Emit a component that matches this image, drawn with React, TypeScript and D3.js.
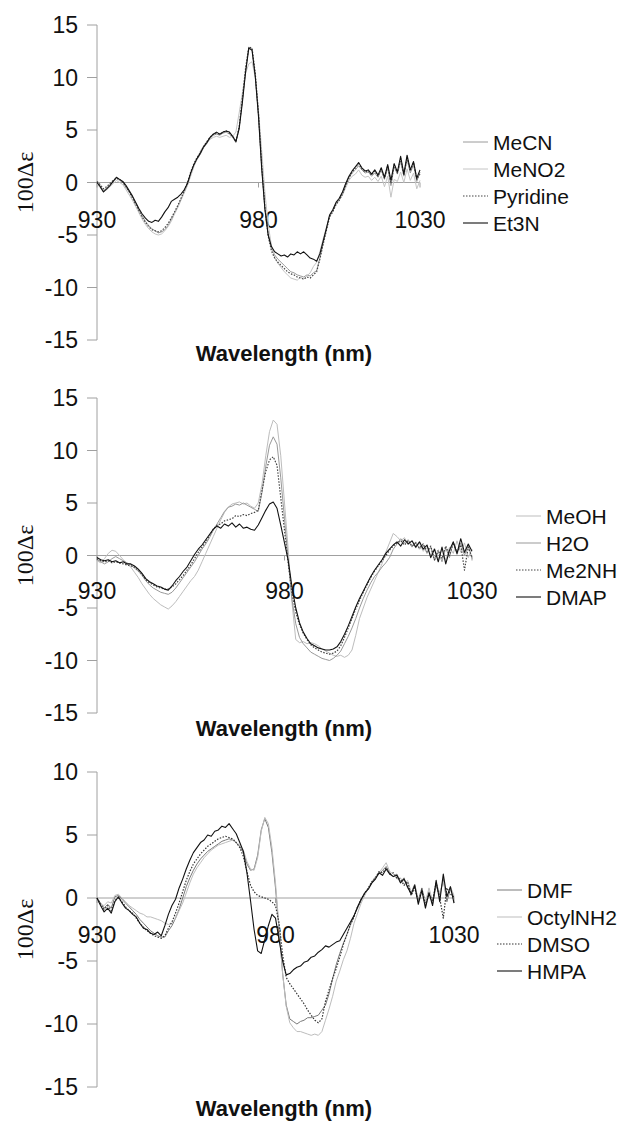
import React from "react";
import * as d3 from "d3";

// 1 nm grid shared by every spectrum
const wavelengths = d3.range(930, 1031);
const xTicks = [930, 980, 1030];

// panel 1
const names1 = ["MeCN", "MeNO2", "Pyridine", "Et3N"];
const meCN = [
  0.0, -0.3, -0.8, -0.5, -0.2, 0.1, 0.4, 0.2, 0.0, -0.5,
  -0.9, -1.4, -2.0, -2.6, -3.2, -3.7, -4.1, -4.4, -4.6, -4.8,
  -4.7, -4.5, -4.1, -3.5, -2.9, -2.3, -1.6, -0.9, -0.2, 0.8,
  1.6, 2.2, 2.7, 3.3, 3.7, 4.2, 4.5, 4.6, 4.5, 4.7,
  4.8, 4.6, 4.3, 3.8, 5.2, 7.8, 10.6, 12.9, 12.7, 10.2,
  6.5, 1.5, -2.5, -5.0, -6.3, -6.9, -7.3, -7.6, -7.9, -8.2,
  -8.5, -8.6, -8.8, -8.9, -9.0, -8.8, -8.9, -8.6, -8.4, -7.2,
  -5.8, -4.5, -3.2, -2.7, -2.0, -1.6, -1.0, -0.2, 0.5, 0.9,
  1.2, 1.6, 1.2, 0.9, 1.0, 0.6, 0.9, 0.5, 1.2, 0.3,
  1.4, -0.3, 1.5, 0.8, 2.0, 0.6, 2.2, 0.9, 1.7, 0.1,
  1.0,
];
const meNO2 = [
  -0.1, -0.5, -0.9, -0.7, -0.4, -0.1, 0.2, 0.0, -0.2, -0.7,
  -1.2, -1.7, -2.3, -2.9, -3.5, -4.0, -4.4, -4.7, -4.9, -5.0,
  -4.9, -4.6, -4.2, -3.7, -3.0, -2.4, -1.7, -1.0, -0.3, 0.6,
  1.5, 2.3, 3.0, 3.5, 3.9, 4.1, 4.3, 4.4, 4.3, 4.4,
  4.5, 4.3, 4.4, 4.8, 6.6, 8.5, 10.4, 11.3, 11.5, 10.0,
  6.8, 3.0, -1.0, -4.0, -6.0, -7.1, -7.7, -8.1, -8.5, -8.8,
  -9.1, -9.2, -9.3, -9.0, -9.2, -8.9, -8.6, -8.0, -7.6, -6.6,
  -5.4, -4.3, -3.3, -2.7, -2.1, -1.7, -1.2, -0.5, 0.2, 0.6,
  0.8, 1.2, 0.7, 0.5, 0.6, 0.2, 0.5, 0.1, 0.6, -0.4,
  0.6, -1.4, 0.3, 0.1, 1.0, 0.0, 1.3, 0.2, 0.9, -0.6,
  0.2,
];
const pyridine = [
  0.1, -0.2, -0.6, -0.4, -0.1, 0.2, 0.4, 0.3, 0.0, -0.4,
  -0.9, -1.5, -2.1, -2.7, -3.3, -3.8, -4.2, -4.5, -4.6, -4.7,
  -4.6, -4.3, -3.9, -3.4, -2.8, -2.2, -1.5, -0.8, 0.0, 1.0,
  1.8, 2.4, 2.8, 3.4, 3.9, 4.3, 4.6, 4.7, 4.6, 4.8,
  4.9, 4.7, 4.4, 3.9, 5.3, 8.0, 10.9, 12.9, 12.8, 10.4,
  6.6, 1.6, -2.4, -5.1, -6.5, -7.2, -7.6, -7.9, -8.2, -8.5,
  -8.7, -8.8, -9.0, -9.1, -9.2, -9.0, -9.1, -8.8, -8.5, -7.3,
  -5.9, -4.6, -3.3, -2.8, -2.1, -1.7, -1.1, -0.3, 0.4, 1.0,
  1.4, 1.8, 1.3, 1.0, 1.1, 0.7, 1.1, 0.6, 1.3, 0.4,
  1.6, -0.1, 1.7, 0.9, 2.3, 0.7, 2.4, 1.1, 1.9, 0.3,
  0.8,
];
const et3N = [
  0.0, -0.4, -0.9, -0.6, -0.3, 0.1, 0.5, 0.3, 0.1, -0.3,
  -0.8, -1.3, -1.9, -2.5, -3.0, -3.4, -3.7, -3.8, -3.6, -3.7,
  -3.3, -2.8, -2.4, -1.8, -1.6, -1.4, -1.1, -0.7, -0.1, 0.9,
  1.7, 2.3, 2.8, 3.4, 3.8, 4.3, 4.6, 4.8, 4.6, 4.8,
  4.9, 4.8, 4.4, 3.9, 5.1, 7.6, 10.5, 12.8, 12.6, 10.1,
  6.3, 1.3, -2.6, -5.0, -6.1, -6.6, -6.8, -7.0, -6.9, -7.1,
  -6.8, -6.9, -6.6, -6.8, -6.6, -6.9, -7.2, -7.3, -7.5, -6.8,
  -5.6, -4.4, -3.1, -2.6, -1.9, -1.5, -0.9, -0.1, 0.6, 1.1,
  1.5, 1.9, 1.4, 1.1, 1.2, 0.8, 1.2, 0.7, 1.4, 0.5,
  1.7, 0.2, 1.8, 1.0, 2.5, 0.8, 2.6, 1.2, 2.0, 0.4,
  1.2,
];

// panel 2
const names2 = ["MeOH", "H2O", "Me2NH", "DMAP"];
const meOH = [
  -0.5, -0.7, -0.3, 0.2, 0.5, 0.4, 0.0, -0.4, -0.8, -1.1,
  -1.6, -2.1, -2.7, -3.2, -3.7, -4.1, -4.4, -4.7, -4.9, -5.1,
  -4.8, -4.4, -3.9, -3.4, -2.9, -2.4, -2.0, -1.4, -0.6, 0.2,
  1.0, 1.8, 2.6, 3.4, 4.1, 4.6, 4.9, 5.0, 5.1, 4.9,
  5.0, 4.7, 4.5, 5.0, 6.8, 9.5, 11.8, 12.9, 12.5, 9.5,
  5.0, 0.5, -4.5, -8.0, -8.3, -8.2, -8.4, -8.3, -8.4, -8.6,
  -8.9, -9.1, -9.3, -9.5, -9.6, -9.5, -9.7, -9.5, -9.0, -7.6,
  -6.0, -5.0, -4.0, -3.2, -2.4, -1.6, -0.8, 0.3, 1.2, 2.1,
  1.8, 1.4, 1.7, 1.0, 1.4, 0.7, 1.2, 0.4, 0.9, 0.0,
  0.7, -0.4, 0.6, -0.5, 0.8, 0.2, 1.4, 0.3, 1.2, -0.2,
  0.6,
];
const h2O = [
  -0.4, -0.6, -0.8, -0.6, -0.3, -0.1, -0.3, -0.5, -0.7, -0.9,
  -1.2, -1.5, -1.9, -2.4, -2.8, -3.1, -3.3, -3.5, -3.6, -3.7,
  -3.5, -3.1, -2.6, -2.1, -1.6, -1.1, -0.6, 0.0, 0.6, 1.1,
  1.7, 2.4, 3.0, 3.6, 4.2, 4.6, 4.7, 4.9, 4.8, 5.0,
  4.8, 4.6, 4.4, 4.2, 6.0, 8.5, 10.5, 11.3, 10.6, 7.4,
  3.5, -0.5, -4.2, -6.5, -7.8, -8.4, -8.8, -9.2, -9.4, -9.6,
  -9.8, -9.9, -10.0, -9.8, -9.5, -9.1, -8.4, -7.7, -6.9, -6.0,
  -5.0, -4.1, -3.3, -2.6, -2.0, -1.6, -1.1, -0.7, -0.2, 0.6,
  1.1, 1.6, 1.2, 1.5, 0.8, 1.3, 0.6, 1.0, 0.2, 0.8,
  -0.5, 0.4, -0.6, 0.7, -0.2, 1.3, 0.1, 1.2, 0.0, 1.0,
  -0.3,
];
const me2NH = [
  -0.3, -0.5, -0.6, -0.5, -0.7, -0.6, -0.7, -0.8, -0.9, -1.0,
  -1.1, -1.4, -1.8, -2.3, -2.6, -2.8, -3.0, -3.1, -3.2, -3.2,
  -3.0, -2.7, -2.3, -1.9, -1.4, -0.9, -0.3, 0.3, 0.8, 1.3,
  1.9, 2.5, 2.9, 3.0, 3.3, 3.4, 3.5, 3.8, 3.7, 3.9,
  3.8, 4.0, 4.1, 4.3, 6.2, 8.0, 9.1, 9.4, 8.6, 5.5,
  2.4, -0.8, -3.6, -5.4, -6.6, -7.4, -8.0, -8.5, -8.8, -9.0,
  -9.2, -9.3, -9.4, -9.3, -9.1, -8.6, -7.8, -6.9, -6.0, -5.1,
  -4.3, -3.5, -2.8, -2.1, -1.5, -1.0, -0.5, 0.0, 0.5, 0.9,
  1.2, 1.4, 1.0, 1.4, 0.9, 1.2, 0.7, 1.1, 0.4, 0.9,
  -0.4, 0.5, -0.3, 0.9, 0.0, 1.2, 0.3, 1.0, -1.4, 0.8,
  -0.2,
];
const dmap = [
  -0.2, -0.4, -0.5, -0.4, -0.6, -0.5, -0.7, -0.6, -0.8, -0.8,
  -1.0, -1.3, -1.7, -2.2, -2.5, -2.7, -2.9, -3.0, -3.2, -3.3,
  -2.9, -2.4, -2.0, -1.5, -1.1, -0.5, 0.1, 0.6, 1.0, 1.5,
  2.0, 2.5, 2.8, 2.6, 3.0, 2.8, 3.1, 2.7, 3.0, 2.6,
  2.7, 2.5, 2.4, 2.9, 3.6, 4.3, 4.9, 5.1, 4.5, 2.9,
  1.2, -0.5, -3.0, -5.0, -6.4, -7.3, -7.9, -8.4, -8.6, -8.8,
  -8.9, -9.0, -9.0, -8.9, -8.7, -8.2, -7.5, -6.7, -5.8, -4.9,
  -4.1, -3.4, -2.7, -2.0, -1.4, -0.9, -0.4, 0.2, 0.6, 1.0,
  1.3, 0.9, 1.5, 1.1, 1.4, 0.8, 1.3, 0.6, 1.0, -0.2,
  0.6, -0.6, 0.8, -0.8, 0.5, 1.3, 0.2, 1.6, 0.3, 1.1,
  0.4,
];

// panel 3
const names3 = ["DMF", "OctylNH2", "DMSO", "HMPA"];
const dmf = [
  0.0, -0.4, -0.8, -0.5, -0.8, 0.1, 0.2, -0.1, -0.4, -0.7,
  -1.0, -1.3, -1.7, -2.0, -2.3, -2.6, -2.8, -3.0, -3.1, -3.1,
  -2.6, -2.2, -1.6, -0.9, 0.0, 0.9, 1.6, 2.2, 2.7, 3.1,
  3.4, 3.7, 3.9, 4.1, 4.3, 4.5, 4.6, 4.7, 4.6, 4.4,
  4.1, 3.6, 2.7, 2.2, 2.3, 3.4, 5.4, 6.3, 5.6, 3.6,
  0.8, -2.5, -6.0, -8.5, -9.6, -9.8, -10.0, -9.8, -9.7, -9.5,
  -9.5, -9.4, -9.3, -8.9, -8.5, -7.6, -6.4, -5.3, -4.4, -3.6,
  -2.9, -2.1, -1.4, -0.8, -0.2, 0.3, 0.8, 1.2, 1.6, 1.9,
  2.2, 2.5, 2.0, 1.7, 1.9, 1.3, 1.6, 0.8, 0.4, 1.1,
  -0.2, 0.8, -0.4, 0.5, -0.5, 1.0, 0.2, 1.5, -0.3, 0.7,
  0.0,
];
const octylNH2 = [
  -0.2, -0.5, -0.6, -0.3, -0.4, 0.2, 0.3, 0.0, -0.3, -0.6,
  -0.8, -1.0, -1.2, -1.3, -1.5, -1.5, -1.6, -1.7, -1.8, -2.0,
  -2.1, -2.0, -1.6, -1.0, -0.4, 0.4, 1.2, 1.9, 2.4, 2.8,
  3.2, 3.5, 3.8, 4.0, 4.2, 4.3, 4.4, 4.5, 4.6, 4.4,
  4.2, 3.8, 2.9, 2.3, 2.2, 3.2, 5.3, 6.4, 5.9, 4.0,
  1.2, -2.3, -6.0, -8.6, -9.9, -10.3, -10.6, -10.6, -10.7, -10.8,
  -10.9, -10.8, -10.9, -10.6, -9.7, -8.8, -7.8, -6.6, -5.8, -4.9,
  -4.2, -3.2, -2.0, -1.2, -0.4, 0.2, 0.8, 1.3, 1.7, 2.0,
  2.4, 2.8, 2.1, 1.9, 1.5, 1.6, 1.1, 1.4, 0.5, 0.9,
  -0.1, 0.7, -0.3, 0.8, -0.2, 1.2, 0.4, 1.3, 0.0, 0.9,
  0.2,
];
const dmso = [
  0.0, -0.5, -0.9, -0.6, -1.0, -0.2, 0.0, -0.3, -0.7, -1.0,
  -1.2, -1.6, -2.0, -2.3, -2.6, -2.8, -3.0, -3.1, -3.2, -3.0,
  -2.4, -1.9, -1.2, -0.4, 0.5, 1.4, 2.1, 2.7, 3.1, 3.5,
  3.8, 4.1, 4.3, 4.5, 4.7, 4.8, 4.9, 4.8, 4.7, 4.4,
  4.0, 3.3, 2.1, 1.0, 0.5, 0.2, 0.1, 0.0, -0.1, -0.3,
  -0.6, -2.0, -4.5, -6.3, -6.8, -7.2, -7.6, -8.0, -8.4, -8.9,
  -9.3, -9.7, -9.9, -9.6, -8.2, -7.3, -6.4, -5.6, -4.7, -3.7,
  -2.9, -2.1, -1.5, -0.7, -0.1, 0.4, 0.8, 1.3, 1.6, 2.1,
  2.0, 2.4, 1.9, 2.0, 1.6, 1.5, 1.0, 1.3, 0.2, 0.8,
  -0.3, 0.7, -0.6, 0.3, -0.2, 1.2, 0.0, -1.6, 0.8, 0.3,
  0.1,
];
const hmpa = [
  0.0, -0.6, -1.1, -0.8, -1.2, -0.3, 0.1, -0.4, -0.8, -1.0,
  -1.3, -1.5, -2.0, -2.4, -2.5, -2.8, -2.9, -2.7, -3.0, -2.2,
  -1.3, -0.6, -0.1, 0.8, 1.5, 2.3, 3.0, 3.6, 4.0, 4.4,
  4.6, 5.0, 4.9, 5.3, 5.4, 5.7, 5.6, 5.9, 5.5, 5.1,
  4.4, 3.7, 2.0, -0.2, -2.5, -4.2, -4.4, -3.3, -2.2, -1.3,
  -1.6, -3.3, -5.0, -6.1, -6.0, -5.7, -5.5, -5.4, -5.1, -5.0,
  -4.7, -4.6, -4.3, -4.1, -3.8, -3.9, -3.7, -3.5, -3.4, -2.9,
  -2.4, -1.9, -1.4, -0.7, -0.1, 0.4, 0.7, 1.2, 1.5, 2.0,
  1.8, 2.3, 1.9, 1.7, 1.8, 1.2, 1.5, 0.9, 0.3, 1.0,
  -0.5, 0.6, -0.8, 0.4, -0.6, 1.4, -0.3, 1.9, 0.1, 0.9,
  -0.4,
];

type Style = { color: string; dash?: string; width: number };

const panels = [
  {
    names: names1,
    series: [meCN, meNO2, pyridine, et3N],
    styles: [
      { color: "#9a9a9a", width: 1 },
      { color: "#c4c4c4", width: 1 },
      { color: "#444", dash: "1.5,1.5", width: 1.2 },
      { color: "#111", width: 1.1 },
    ] as Style[],
    yDomain: [-15, 15],
    xRange: [97, 420],
    yRange: [340, 25],
    labelDy: 45,
    legendX: 463,
    legendY: 142,
    titleY: 361,
  },
  {
    names: names2,
    series: [meOH, h2O, me2NH, dmap],
    styles: [
      { color: "#bdbdbd", width: 1 },
      { color: "#999", width: 1 },
      { color: "#444", dash: "1.5,1.5", width: 1.2 },
      { color: "#111", width: 1.1 },
    ] as Style[],
    yDomain: [-15, 15],
    xRange: [97, 472],
    yRange: [713, 398],
    labelDy: 43,
    legendX: 516,
    legendY: 516,
    titleY: 736,
  },
  {
    names: names3,
    series: [dmf, octylNH2, dmso, hmpa],
    styles: [
      { color: "#7a7a7a", width: 1 },
      { color: "#bdbdbd", width: 1 },
      { color: "#333", dash: "1.5,1.5", width: 1.2 },
      { color: "#111", width: 1.1 },
    ] as Style[],
    yDomain: [-15, 10],
    xRange: [97, 454],
    yRange: [1087, 772],
    labelDy: 45,
    legendX: 497,
    legendY: 890,
    titleY: 1116,
  },
];

const sans = "'Liberation Sans', Arial, sans-serif";

function Panel({ p }: { p: (typeof panels)[number] }) {
  const x = d3.scaleLinear().domain([930, 1030]).range(p.xRange);
  const y = d3.scaleLinear().domain(p.yDomain).range(p.yRange);
  const yTicks = d3.range(p.yDomain[0], p.yDomain[1] + 1, 5);
  const line = d3
    .line<number>()
    .x((_, i) => x(wavelengths[i]))
    .y((d) => y(d));
  const y0 = y(0);
  const axisColor = "#a0a0a0";
  const midY = (p.yRange[0] + p.yRange[1]) / 2;

  return (
    <g>
      {/* y axis */}
      <line x1={x(930)} x2={x(930)} y1={p.yRange[0]} y2={p.yRange[1]} stroke={axisColor} />
      {yTicks.map((t) => (
        <g key={t}>
          <line x1={x(930) - 10} x2={x(930)} y1={y(t)} y2={y(t)} stroke={axisColor} />
          <text x={78} y={y(t) + 8} textAnchor="end" fontSize={23} fontFamily={sans} fill="#111">
            {t}
          </text>
        </g>
      ))}
      {/* x axis at zero */}
      <line x1={p.xRange[0]} x2={p.xRange[1]} y1={y0} y2={y0} stroke={axisColor} />
      {xTicks.map((t) => (
        <g key={t}>
          <line x1={x(t)} x2={x(t)} y1={y0} y2={y0 + 5} stroke={axisColor} />
          <text x={x(t)} y={y0 + p.labelDy} textAnchor="middle" fontSize={23} fontFamily={sans} fill="#111">
            {t}
          </text>
        </g>
      ))}
      {/* spectra */}
      {p.series.map((s, i) => (
        <path
          key={p.names[i]}
          d={line(s) ?? ""}
          fill="none"
          stroke={p.styles[i].color}
          strokeWidth={p.styles[i].width}
          strokeDasharray={p.styles[i].dash}
          strokeLinejoin="round"
        />
      ))}
      {/* legend */}
      {p.names.map((n, i) => {
        const ly = p.legendY + i * 27;
        return (
          <g key={n}>
            <line
              x1={p.legendX}
              x2={p.legendX + 25}
              y1={ly}
              y2={ly}
              stroke={p.styles[i].color}
              strokeWidth={p.styles[i].width}
              strokeDasharray={p.styles[i].dash}
            />
            <text x={p.legendX + 30} y={ly + 7.5} fontSize={21} fontFamily={sans} fill="#111">
              {n}
            </text>
          </g>
        );
      })}
      {/* axis titles */}
      <text
        transform={`translate(33,${midY}) rotate(-90)`}
        textAnchor="middle"
        fontSize={24}
        fontFamily="'Liberation Serif', 'Times New Roman', serif"
        fill="#111"
      >
        100Δε
      </text>
      <text x={284} y={p.titleY} textAnchor="middle" fontSize={22} fontWeight="bold" fontFamily={sans} fill="#111">
        Wavelength (nm)
      </text>
    </g>
  );
}

export default function App() {
  return (
    <svg
      width={620}
      height={1122}
      style={{ position: "absolute", left: 0, top: 0, background: "#fff" }}
    >
      {panels.map((p, i) => (
        <Panel key={i} p={p} />
      ))}
    </svg>
  );
}
